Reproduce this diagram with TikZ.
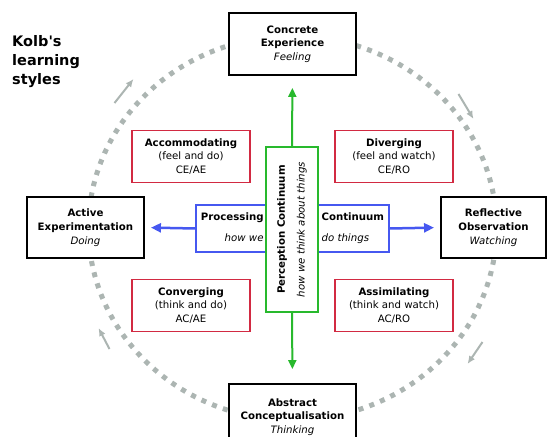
\documentclass[tikz,border=0pt]{standalone}
\usepackage{fontspec}
\setmainfont{DejaVu Sans}
\usetikzlibrary{arrows.meta}

\definecolor{cyclegray}{RGB}{172,181,178}
\definecolor{stylered}{RGB}{210,42,66}
\definecolor{procblue}{RGB}{70,88,240}
\definecolor{percgreen}{RGB}{40,185,45}

\begin{document}
\begin{tikzpicture}[x=1pt, y=1pt, font=\fontsize{10.2}{13.7}\selectfont,
		stagebox/.style={draw=black, line width=1.9pt, fill=white, align=center, inner sep=0pt, minimum width=127pt, minimum height=62pt},
		stylebox/.style={draw=stylered, line width=1.6pt, fill=white, align=center, inner sep=0pt, minimum width=118pt, minimum height=52pt},
		procbox/.style={draw=procblue, line width=1.5pt, fill=white, inner sep=0pt, minimum width=193pt, minimum height=47pt},
		percbox/.style={draw=percgreen, line width=1.6pt, fill=white, align=center, inner sep=0pt, rotate=90, minimum width=165pt, minimum height=52pt},
		cycledots/.style={cyclegray, line width=5pt, dash pattern=on 5pt off 6.5pt},
		cyclearrow/.style={cyclegray, line width=2pt, -{Latex[length=8pt,width=7pt]}},
		procarrow/.style={procblue, line width=2.5pt, -{Triangle[length=10pt,width=9pt]}},
		percarrow/.style={percgreen, line width=2pt, -{Triangle[length=9pt,width=8pt]}}]
	\useasboundingbox (-292.5,-209) rectangle (254.5,228);
	
	%learning cycle
	\draw[cycledots] (0,0) ellipse [x radius=204, y radius=192];
	\coordinate (tla) at (-178,125);
	\coordinate (tlb) at (-159,149);
	\coordinate (tra) at (166,134);
	\coordinate (trb) at (181,109);
	\coordinate (bra) at (190,-114);
	\coordinate (brb) at (175,-136);
	\coordinate (bla) at (-183,-121);
	\coordinate (blb) at (-194,-100);
	\foreach \s/\e in {tla/tlb, tra/trb, bra/brb, bla/blb}{
		\draw[cyclearrow] (\s) -- (\e);
	}
	
	\node[anchor=north west, align=left, inner sep=0pt, font=\fontsize{14.5}{19}\selectfont\bfseries] (title) at (-280.5,193) {Kolb\textquotesingle s\\learning\\styles};
	
	%four stages
	\node[stagebox] (ce) at (0,184) {\textbf{Concrete}\\\textbf{Experience}\\\textit{Feeling}};
	\node[stagebox, minimum height=66pt] (ac) at (0,-189) {\textbf{Abstract}\\\textbf{Conceptualisation}\\\textit{Thinking}};
	\node[stagebox, minimum width=117pt, minimum height=61pt] (ae) at (-207,0.5) {\textbf{Active}\\\textbf{Experimentation}\\\textit{Doing}};
	\node[stagebox, minimum width=105pt, minimum height=61pt] (ro) at (201,0.5) {\textbf{Reflective}\\\textbf{Observation}\\\textit{Watching}};
	
	%four styles
	\node[stylebox] (acc) at (-101.5,71.5) {\textbf{Accommodating}\\(feel and do)\\CE/AE};
	\node[stylebox] (div) at (101.5,71.5) {\textbf{Diverging}\\(feel and watch)\\CE/RO};
	\node[stylebox] (con) at (-101.5,-77.5) {\textbf{Converging}\\(think and do)\\AC/AE};
	\node[stylebox] (ass) at (101.5,-77.5) {\textbf{Assimilating}\\(think and watch)\\AC/RO};
	
	%processing continuum
	\node[procbox] (proc) at (0,-0.5) {\setlength{\tabcolsep}{0pt}\begin{tabular}{r@{\hspace{58pt}}l}\textbf{Processing} & \textbf{Continuum}\\[7pt] \textit{how we} & \textit{do things}\end{tabular}};
	\draw[procarrow, shorten >=6pt] (proc.west) -- (ae.east);
	\draw[procarrow, shorten >=6pt] (proc.east) -- (ro.west);
	
	%perception continuum
	\node[percbox] (perc) at (-0.5,-1.5) {\textbf{Perception Continuum}\\[6pt]\textit{how we think about things}};
	\draw[percarrow, shorten >=12pt] (perc.east) -- (ce.south);
	\draw[percarrow, shorten >=14pt] (perc.west) -- (ac.north);
\end{tikzpicture}
\end{document}
